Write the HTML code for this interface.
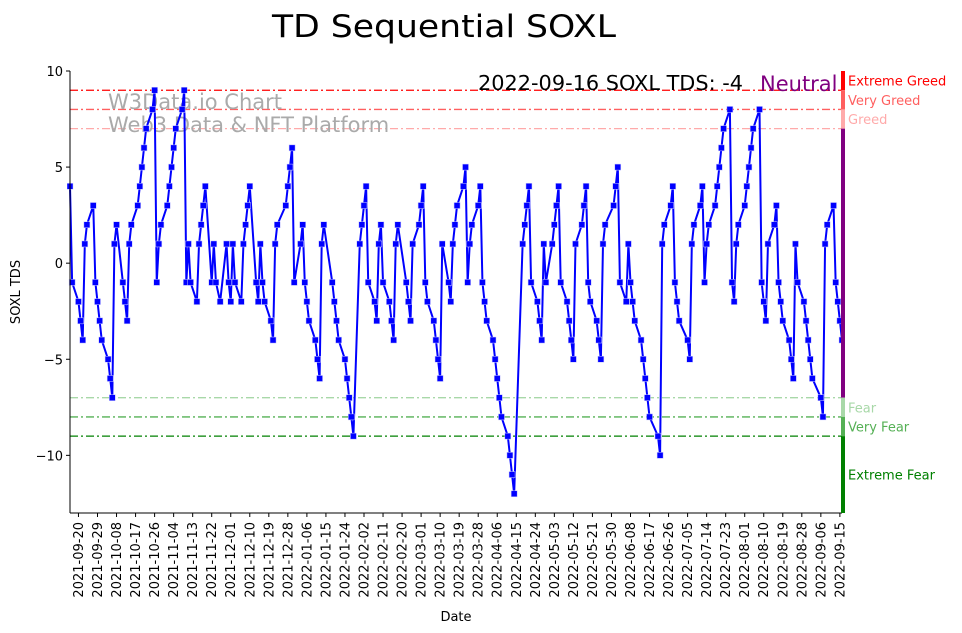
<!DOCTYPE html>
<html><head><meta charset="utf-8"><title>TD Sequential SOXL</title>
<style>
html,body{margin:0;padding:0;background:#fff;}
svg{display:block;font-family:"DejaVu Sans","Liberation Sans",sans-serif;}
</style></head>
<body>
<svg id="chart" width="962" height="633" viewBox="0 0 962 633" xmlns="http://www.w3.org/2000/svg">
  <text x="444" y="37" text-anchor="middle" font-size="31" fill="#000" textLength="344" lengthAdjust="spacingAndGlyphs">TD Sequential SOXL</text>
  <g id="zones"></g>
  <text x="108" y="109" font-size="21" fill="#aaaaaa">W3Data.io Chart</text>
  <text x="108" y="132" font-size="21" fill="#aaaaaa">Web3 Data &amp; NFT Platform</text>
  <g id="series"></g>
  <g id="axes"></g>
  <text x="478" y="90" font-size="20" fill="#000" textLength="265" lengthAdjust="spacingAndGlyphs">2022-09-16 SOXL TDS: -4</text>
  <text x="760" y="91" font-size="21" fill="#800080">Neutral</text>
  <text transform="translate(20,292) rotate(-90)" text-anchor="middle" font-size="13" fill="#000">SOXL TDS</text>
  <text x="456" y="621" text-anchor="middle" font-size="13" fill="#000">Date</text>
</svg>
<script>
// ---- data ----
const startDate = "2021-09-16";
const endDate = "2022-09-16";
const holidays = ["2021-11-25","2021-12-24","2022-01-17","2022-02-21","2022-04-15","2022-05-30","2022-06-20","2022-07-04","2022-09-05"];
const tdsValues = [
  4,-1,
  -2,-3,-4,1,2,
  3,-1,-2,-3,-4,
  -5,-6,-7,1,2,
  -1,-2,-3,1,2,
  3,4,5,6,7,
  8,9,-1,1,2,
  3,4,5,6,7,
  8,9,-1,1,-1,
  -2,1,2,3,4,
  -1,1,-1,-2,
  1,-1,-2,1,-1,
  -2,1,2,3,4,
  -1,-2,1,-1,-2,
  -3,-4,1,2,
  3,4,5,6,-1,
  1,2,-1,-2,-3,
  -4,-5,-6,1,2,
  -1,-2,-3,-4,
  -5,-6,-7,-8,-9,
  1,2,3,4,-1,
  -2,-3,1,2,-1,
  -2,-3,-4,1,2,
  -1,-2,-3,1,
  2,3,4,-1,-2,
  -3,-4,-5,-6,1,
  -1,-2,1,2,3,
  4,5,-1,1,2,
  3,4,-1,-2,-3,
  -4,-5,-6,-7,-8,
  -9,-10,-11,-12,
  1,2,3,4,-1,
  -2,-3,-4,1,-1,
  1,2,3,4,-1,
  -2,-3,-4,-5,1,
  2,3,4,-1,-2,
  -3,-4,-5,1,2,
  3,4,5,-1,
  -2,1,-1,-2,-3,
  -4,-5,-6,-7,-8,
  -9,-10,1,2,
  3,4,-1,-2,-3,
  -4,-5,1,2,
  3,4,-1,1,2,
  3,4,5,6,7,
  8,-1,-2,1,2,
  3,4,5,6,7,
  8,-1,-2,-3,1,
  2,3,-1,-2,-3,
  -4,-5,-6,1,-1,
  -2,-3,-4,-5,-6,
  -7,-8,1,2,
  3,-1,-2,-3,-4
];
const yTicks = [10,5,0,-5,-10];
const zoneLevels = [9,8,7,-7,-8,-9];
const zoneColors = ["#ff0000","#ff5f5f","#ffaaaa","#a8d8a8","#55b055","#008000"];
const bandNames = ["Extreme Greed","Very Greed","Greed","Neutral","Fear","Very Fear","Extreme Fear"];
const bandTop = [10,9,8,7,-7,-8,-9];
const bandBottom = [9,8,7,-7,-8,-9,-13];
const bandColors = ["#ff0000","#ff5f5f","#ffaaaa","#800080","#a8d8a8","#55b055","#008000"];
const bandLabelValues = [9.5,8.5,7.5,null,-7.5,-8.5,-11];
const tickStart = "2021-09-20";
const tickStepDays = 9;

// ---- scales ----
const X0=70, X1=842, Y0=71, Y1=513, YMAX=10, YMIN=-13;
const DAY=86400000;
const t0=Date.parse(startDate+"T00:00:00Z"), t1=Date.parse(endDate+"T00:00:00Z");
function xScale(t){return X0+(t-t0)/(t1-t0)*(X1-X0);}
function yScale(v){return Y0+(YMAX-v)/(YMAX-YMIN)*(Y1-Y0);}
function iso(t){return new Date(t).toISOString().slice(0,10);}

// trading dates
const dates=[];
for(let t=t0;t<=t1;t+=DAY){const d=new Date(t).getUTCDay();if(d===0||d===6)continue;if(holidays.indexOf(iso(t))>=0)continue;dates.push(t);}

const NS="http://www.w3.org/2000/svg";
function mk(tag,attrs,parent){const e=document.createElementNS(NS,tag);for(const k in attrs)e.setAttribute(k,attrs[k]);parent.appendChild(e);return e;}

// zone lines
const zones=document.getElementById("zones");
zoneLevels.forEach((lv,i)=>{
  const l=mk("line",{x1:X0,x2:X1,y1:yScale(lv),y2:yScale(lv),stroke:zoneColors[i],"stroke-width":1.3,"stroke-dasharray":"8,3,2,3"},zones);
  
  
});

// series
const series=document.getElementById("series");
const n=Math.min(dates.length,tdsValues.length);
let pts=[];
for(let i=0;i<n;i++)pts.push(xScale(dates[i]).toFixed(2)+","+yScale(tdsValues[i]).toFixed(2));
const cp=mk("clipPath",{id:"plotclip"},series);
mk("rect",{x:X0-3,y:Y0-5,width:X1-X0+3,height:Y1-Y0+5},cp);
const g=mk("g",{"clip-path":"url(#plotclip)"},series);
const pl=mk("polyline",{points:pts.join(" "),fill:"none",stroke:"#0000ff","stroke-width":2,"stroke-linejoin":"round"},g);


for(let i=0;i<n;i++){
  const r=mk("rect",{x:xScale(dates[i])-3,y:yScale(tdsValues[i])-3,width:6,height:6,fill:"#0000ff",stroke:"#c8c8ff","stroke-width":0.5},g);
  
  
}

// axes
const axes=document.getElementById("axes");
const ls=mk("line",{x1:X0,x2:X0,y1:Y0,y2:Y1,stroke:"#000","stroke-width":1},axes);


const bs=mk("line",{x1:X0,x2:X1,y1:Y1,y2:Y1,stroke:"#000","stroke-width":1},axes);


yTicks.forEach(v=>{
  const y=yScale(v);
  mk("line",{x1:X0-4,x2:X0,y1:y,y2:y,stroke:"#000","stroke-width":1},axes);
  const t=mk("text",{x:X0-7,y:y+5,"text-anchor":"end","font-size":13,fill:"#000"},axes);
  t.textContent=String(v).replace("-","\u2212");
  
  
});
for(let t=Date.parse(tickStart+"T00:00:00Z");t<=t1;t+=tickStepDays*DAY){
  const x=xScale(t);
  mk("line",{x1:x,x2:x,y1:Y1,y2:Y1+4,stroke:"#000","stroke-width":1},axes);
  const tx=mk("text",{transform:"translate("+(x+4.5)+","+(Y1+9)+") rotate(-90)","text-anchor":"end","font-size":13,fill:"#000"},axes);
  tx.textContent=iso(t);
  
  
}

// sentiment bar and labels
bandNames.forEach((nm,i)=>{
  const y0=yScale(bandTop[i]),y1=yScale(bandBottom[i]);
  const r=mk("rect",{x:841,y:y0,width:4,height:y1-y0,fill:bandColors[i]},axes);
  
  
  if(bandLabelValues[i]!==null){
    const t=mk("text",{x:848,y:yScale(bandLabelValues[i])+5,"font-size":13,fill:bandColors[i]},axes);
    t.textContent=nm;
    
    
  }
});
</script>
</body></html>
